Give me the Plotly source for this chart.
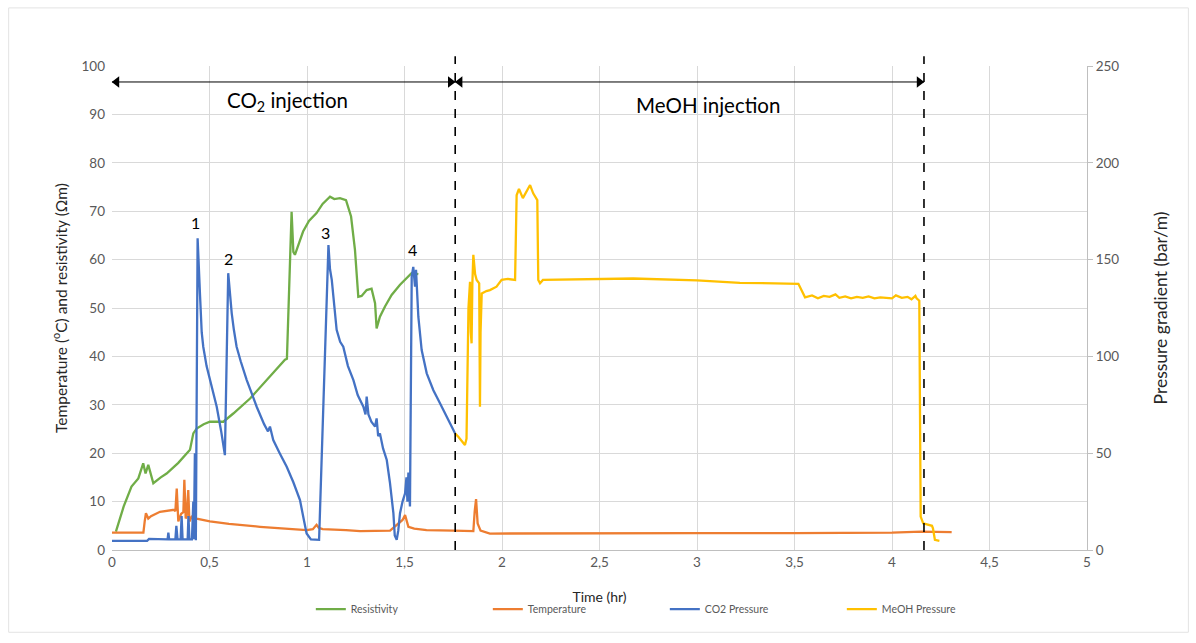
import plotly.graph_objects as go

# ---- data -------------------------------------------------------------
# Resistivity (Ohm.m) and temperature (degC) on the left axis
res_t = [0.02, 0.06, 0.10, 0.135, 0.16, 0.172, 0.186, 0.2, 0.212, 0.25, 0.28, 0.34, 0.40,
         0.417, 0.434, 0.47, 0.502, 0.571, 0.622, 0.708, 0.793, 0.887, 0.897, 0.904, 0.921,
         0.93, 0.938, 0.96, 0.98, 1.01, 1.049, 1.08, 1.118, 1.14, 1.169, 1.2, 1.226, 1.246,
         1.263, 1.28, 1.306, 1.331, 1.349, 1.357, 1.374, 1.4, 1.434, 1.477, 1.511, 1.536, 1.571]
res_v = [3.8, 9, 13.1, 14.8, 17.9, 15.8, 17.6, 15.5, 13.8, 15, 15.8, 18, 20.7,
         24.1, 25.1, 26, 26.5, 26.5, 28.2, 31.3, 35.1, 39.3, 39.5, 48.9, 69.9,
         61.6, 61.0, 63.5, 65.8, 68, 69.6, 71.5, 73, 72.5, 72.7, 72.3, 68.9, 62,
         52.3, 52.5, 53.7, 54, 51, 45.8, 48.2, 50.3, 52.7, 54.8, 56.1, 57.2, 57]

temp_t = [0, 0.161, 0.168, 0.174, 0.186, 0.2, 0.246, 0.3, 0.318, 0.325, 0.332, 0.34, 0.355,
          0.366, 0.371, 0.378, 0.383, 0.391, 0.397, 0.409, 0.434, 0.502, 0.6, 0.759, 0.9,
          0.998, 1.03, 1.049, 1.06, 1.08, 1.2, 1.272, 1.426, 1.46, 1.49, 1.503, 1.52, 1.55,
          1.613, 1.75, 1.853, 1.86, 1.867, 1.875, 1.89, 1.938, 2.5, 3.0, 3.5, 4.0, 4.15, 4.306]
temp_v = [3.6, 3.6, 6, 7.6, 6.5, 7, 7.9, 8.1, 8.3, 8.0, 12.7, 5.9, 7.5,
          7.8, 14.5, 6.5, 6.9, 12.4, 5.9, 6.9, 6.5, 5.9, 5.4, 4.8, 4.4,
          4.1, 4.3, 5.2, 4.6, 4.3, 4.1, 3.9, 4.0, 5.2, 6.2, 7.2, 4.8, 4.4,
          4.1, 4.0, 3.9, 8, 10.5, 5.5, 4.0, 3.4, 3.5, 3.5, 3.5, 3.6, 3.8, 3.7]

# Pressure gradients (bar/m) on the right axis
co2_t = [0, 0.18, 0.19, 0.285, 0.289, 0.293, 0.325, 0.33, 0.336, 0.352, 0.357, 0.362, 0.388,
         0.392, 0.397, 0.41, 0.417, 0.42, 0.425, 0.43, 0.439, 0.445, 0.451, 0.46, 0.468, 0.485,
         0.502, 0.52, 0.537, 0.56, 0.579, 0.596, 0.605, 0.614, 0.625, 0.639, 0.66, 0.691, 0.72,
         0.742, 0.78, 0.8, 0.81, 0.827, 0.86, 0.896, 0.93, 0.964, 0.985, 0.998, 1.02, 1.062,
         1.11, 1.118, 1.127, 1.14, 1.152, 1.17, 1.186, 1.21, 1.238, 1.26, 1.289, 1.3, 1.306,
         1.315, 1.33, 1.349, 1.357, 1.365, 1.374, 1.39, 1.409, 1.425, 1.443, 1.45, 1.46, 1.468,
         1.477, 1.49, 1.503, 1.51, 1.515, 1.52, 1.528, 1.537, 1.545, 1.554, 1.559, 1.571, 1.588,
         1.614, 1.648, 1.682, 1.716, 1.759]
co2_v = [4.75, 4.75, 5.75, 5.5, 9, 5.5, 5.5, 12.5, 5.5, 5.5, 17.5, 5.5, 5.5,
         17.5, 5.5, 5.5, 25, 5.5, 50, 5, 161, 142.5, 132.5, 112.5, 105, 95,
         87.75, 81.25, 74, 61.25, 49, 143, 130, 122.25, 113.75, 105, 97.5, 87.75, 80,
         74, 65, 61.25, 63.75, 56.75, 50, 43, 35, 25.75, 15, 8.5, 5.5, 5.25,
         157.5, 145, 139.5, 125, 113.75, 107.5, 105, 95, 87.75, 80, 74, 70, 79.25,
         70, 66.25, 63.75, 68, 58.75, 60.25, 52.5, 46.5, 35, 19, 7.5, 5.25, 10,
         19, 25, 29.25, 37.5, 25, 40, 22.5, 141.25, 146.25, 136, 144.75, 120.5, 103.25,
         91.25, 82.5, 75.75, 68.75, 60.25]

meoh_t = [1.759, 1.776, 1.81, 1.818, 1.828, 1.836, 1.84, 1.844, 1.848, 1.853, 1.862, 1.87,
          1.883, 1.885, 1.887, 1.89, 1.896, 1.92, 1.938, 1.972, 1.998, 2.03, 2.067, 2.075,
          2.087, 2.107, 2.144, 2.16, 2.181, 2.186, 2.195, 2.21, 2.4, 2.673, 3.0, 3.22, 3.4,
          3.52, 3.554, 3.59, 3.62, 3.65, 3.68, 3.71, 3.73, 3.76, 3.79, 3.82, 3.85, 3.88, 3.91,
          3.94, 3.97, 4.0, 4.02, 4.05, 4.08, 4.1, 4.12, 4.126, 4.14, 4.144, 4.147, 4.16,
          4.205, 4.21, 4.22, 4.243]
meoh_v = [60.25, 58.5, 54.25, 57.5, 125, 138.5, 112.5, 106.75, 137.5, 152.5, 142.5, 139.5,
          137.75, 100, 74, 112.5, 132.5, 133.75, 134.25, 136, 139.5, 140, 139.5, 183.25,
          186.5, 181.75, 188.5, 184.25, 180.75, 139.5, 137.75, 139.5, 139.75, 140.25, 139.25, 138, 137.75,
          137.5, 130.5, 131.5, 130, 131.25, 130.75, 132, 130.25, 131, 130, 130.75, 130.25, 131, 130,
          130.5, 130.25, 130, 131.5, 130.25, 130.75, 129.5, 131.25, 130, 128.75, 86.25, 17.25, 13.75,
          12.5, 11.25, 5.25, 4.75]

x_ticks = [0, 0.5, 1, 1.5, 2, 2.5, 3, 3.5, 4, 4.5, 5]
x_labels = ["0", "0,5", "1", "1,5", "2", "2,5", "3", "3,5", "4", "4,5", "5"]

# injection phases (hr) and peak labels
co2_start, phase_switch, meoh_end = 0.0, 1.76, 4.164
arrow_level = 96.7
peak_labels = ["1", "2", "3", "4"]
peak_x = [0.428, 0.595, 1.097, 1.539]
peak_y = [67.6, 60.3, 65.7, 62.0]

# ---- figure -----------------------------------------------------------
FONT = "Lato, 'Open Sans', sans-serif"
fig = go.Figure()

fig.add_trace(go.Scatter(x=res_t, y=res_v, name="Resistivity", mode="lines",
                         line=dict(color="#70AD47", width=2.3)))
fig.add_trace(go.Scatter(x=temp_t, y=temp_v, name="Temperature", mode="lines",
                         line=dict(color="#ED7D31", width=2.3)))
fig.add_trace(go.Scatter(x=co2_t, y=co2_v, name="CO2 Pressure", mode="lines", yaxis="y2",
                         line=dict(color="#4472C4", width=2.3)))
fig.add_trace(go.Scatter(x=meoh_t, y=meoh_v, name="MeOH Pressure", mode="lines", yaxis="y2",
                         line=dict(color="#FFC000", width=2.3)))

# arrowheads for the two phase arrows (tips sit on the phase boundaries)
head_off = 0.024
fig.add_trace(go.Scatter(
    x=[co2_start + head_off, phase_switch - head_off, phase_switch + head_off, meoh_end - head_off],
    y=[arrow_level] * 4, mode="markers", showlegend=False, hoverinfo="skip", cliponaxis=False,
    marker=dict(symbol=["triangle-left", "triangle-right", "triangle-left", "triangle-right"],
                size=10, color="black", line=dict(width=0))))

annotations = []
annotations.append(dict(x=0.9, y=92.6, xref="x", yref="y", text="CO<sub>2</sub> injection",
                        showarrow=False, font=dict(size=20.5, color="black", family=FONT)))
annotations.append(dict(x=3.056, y=91.9, xref="x", yref="y", text="MeOH injection",
                        showarrow=False, font=dict(size=20.5, color="black", family=FONT)))
for lbl, px, py in zip(peak_labels, peak_x, peak_y):
    annotations.append(dict(x=px, y=py, xref="x", yref="y", text=lbl, showarrow=False,
                            font=dict(size=16, color="black", family=FONT)))

shapes = []
# arrow shafts
for a, b in [(co2_start, phase_switch), (phase_switch, meoh_end)]:
    shapes.append(dict(type="line", xref="x", yref="y", x0=a, x1=b, y0=arrow_level,
                       y1=arrow_level, line=dict(color="black", width=1)))
for xv in [phase_switch, meoh_end]:
    shapes.append(dict(type="line", xref="x", yref="paper", x0=xv, x1=xv, y0=0, y1=1.02,
                       line=dict(color="black", width=1.6, dash="dash")))
# light frame around the whole chart
shapes.append(dict(type="rect", xref="paper", yref="paper", x0=-0.106, x1=1.104,
                   y0=-0.17, y1=1.12, line=dict(color="#e3e3e3", width=1), layer="below"))

tick_font = dict(size=13.5, color="#595959", family=FONT)

fig.update_layout(
    width=1196, height=643,
    margin=dict(l=112, r=109, t=66, b=93),
    paper_bgcolor="white", plot_bgcolor="white",
    font=dict(family=FONT),
    xaxis=dict(range=[0, 5], tickvals=x_ticks, ticktext=x_labels, showgrid=True,
               gridcolor="#d9d9d9", gridwidth=1, zeroline=False, showline=True,
               linecolor="#bfbfbf", linewidth=1, tickfont=tick_font,
               title=dict(text="Time (hr)", font=dict(size=14, color="#262626", family=FONT),
                          standoff=22)),
    yaxis=dict(range=[0, 100], dtick=10, showgrid=True, gridcolor="#d9d9d9", gridwidth=1,
               zeroline=False, showline=False, tickfont=tick_font, ticklabelstandoff=6,
               title=dict(text="Temperature (<sup>o</sup>C) and resistivity (\u03a9m)",
                          font=dict(size=15.5, color="#262626", family=FONT), standoff=10)),
    yaxis2=dict(range=[0, 250], dtick=50, overlaying="y", side="right", showgrid=False,
                zeroline=False, showline=True, linecolor="#bfbfbf", linewidth=1,
                ticks="outside", ticklen=5, tickcolor="#bfbfbf", tickfont=tick_font,
                title=dict(text="Pressure gradient (bar/m)",
                           font=dict(size=17.5, color="#262626", family=FONT), standoff=36)),
    legend=dict(orientation="h", x=0.567, xanchor="center", y=-0.122, yanchor="middle",
                font=dict(size=10.5, color="#595959", family=FONT),
                entrywidth=132, entrywidthmode="pixels", itemwidth=30),
    annotations=annotations,
    shapes=shapes,
)

fig.write_html("out.html")
